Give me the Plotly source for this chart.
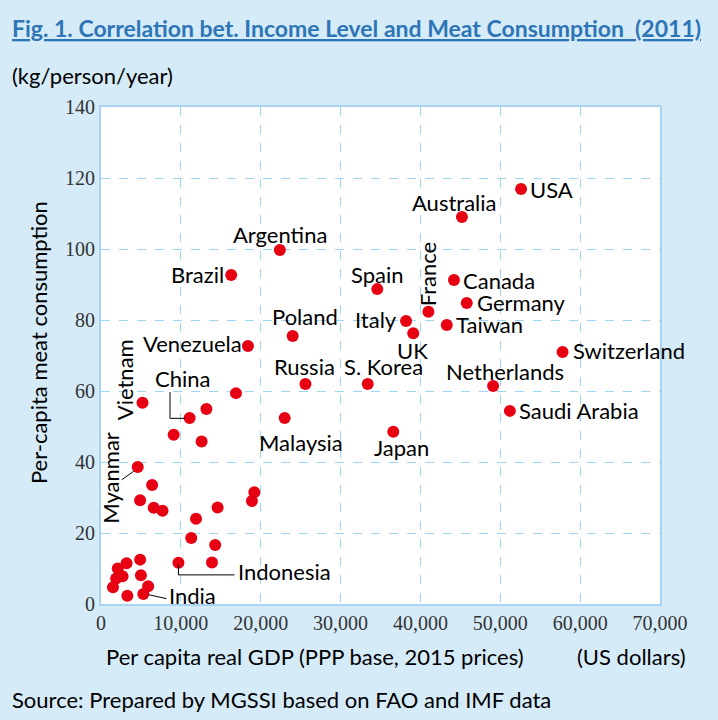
import plotly.graph_objects as go

# per capita real GDP (US$) and meat consumption (kg/person/year), 2011
countries = ["USA", "Australia", "Argentina", "Brazil", "Canada", "Spain", "Germany",
             "France", "Italy", "Taiwan", "UK", "Poland", "Venezuela", "Switzerland",
             "Russia", "S. Korea", "Netherlands", "Saudi Arabia", "Japan", "Malaysia",
             "China", "Vietnam", "Myanmar", "Indonesia", "India",
             "", "", "", "", "", "", "", "", "", "", "", "", "", "", "", "", "",
             "", "", "", "", "", "", ""]
gdp = [52600, 45200, 22400, 16300, 44200, 34600, 45800,
       41000, 38200, 43300, 39100, 24000, 18400, 57800,
       25600, 33400, 49100, 51200, 36600, 23000,
       11100, 5200, 4600, 9700, 5300,
       16900, 13200, 9100, 12600, 6400, 19200, 4900, 18900, 6600, 7700,
       14600, 11900, 11300, 14300, 4900, 3200, 2100, 13900, 5000, 1900,
       2700, 1500, 5900, 3300]
meat = [116.9, 109.0, 99.7, 92.7, 91.3, 88.7, 84.8,
        82.3, 79.7, 78.6, 76.3, 75.5, 72.7, 71.0,
        62.0, 62.0, 61.4, 54.4, 48.5, 52.4,
        52.4, 56.7, 38.6, 11.6, 2.8,
        59.4, 54.9, 47.7, 45.8, 33.5, 31.5, 29.2, 29.0, 27.1, 26.3,
        27.2, 24.0, 18.6, 16.6, 12.5, 11.5, 10.0, 11.7, 8.1, 7.2,
        7.8, 4.7, 5.0, 2.3]

# label placement: (xshift, yshift, xanchor, textangle) in pixels
label_pos = {
    "USA": (7, 0, "left", 0), "Australia": (-8, 15, "center", 0),
    "Argentina": (0, 16, "center", 0), "Brazil": (-5, 0, "right", 0),
    "Canada": (7, -1, "left", 0), "Spain": (0, 15, "center", 0),
    "Germany": (8, 0, "left", 0), "France": (-1, 38, "center", -90),
    "Italy": (-7, 2, "right", 0), "Taiwan": (7, 0, "left", 0),
    "UK": (-1, -17, "center", 0), "Poland": (12, 19, "center", 0),
    "Venezuela": (-4, 2, "right", 0), "Switzerland": (8, 1, "left", 0),
    "Russia": (-1, 17, "center", 0), "S. Korea": (16, 17, "center", 0),
    "Netherlands": (12, 15, "center", 0), "Saudi Arabia": (7, 0, "left", 0),
    "Japan": (8, -16, "center", 0), "Malaysia": (16, -25, "center", 0),
    "China": (-7, 39, "center", 0), "Vietnam": (-18, 23, "center", -90),
    "Myanmar": (-27, -11, "center", -90), "Indonesia": (58, -9, "left", 0),
    "India": (24, -1, "left", 0),
}

# leader lines (data coordinates)
leaders = [
    [(8640, 59.7), (8640, 52.3), (10500, 52.3)],   # China
    [(9700, 11.0), (9700, 8.2), (16700, 8.2)],     # Indonesia
    [(6000, 2.6), (8200, 1.5)],                    # India
    [(2600, 35.0), (4100, 37.4)],                  # Myanmar
]

fig = go.Figure()
fig.add_trace(go.Scatter(
    x=gdp, y=meat, mode="markers",
    marker=dict(size=12, color="#E60012"),
    hoverinfo="x+y",
))

label_font = dict(family="Lato, Carlito, sans-serif", size=22, color="black")
for name, x, y in zip(countries, gdp, meat):
    if not name:
        continue
    dx, dy, anchor, angle = label_pos[name]
    fig.add_annotation(x=x, y=y, text=name, showarrow=False, xanchor=anchor,
                       yanchor="middle", xshift=dx, yshift=dy, textangle=angle,
                       font=label_font)

for pts in leaders:
    path = "M " + " L ".join(f"{px},{py}" for px, py in pts)
    fig.add_shape(type="path", path=path, xref="x", yref="y",
                  line=dict(color="black", width=1))

text_font = dict(family="Lato, Carlito, sans-serif", size=22, color="black")


def note(text, x, y, xanchor="left", angle=0, font=text_font):
    fig.add_annotation(xref="paper", yref="paper", x=x, y=y, text=text,
                       xanchor=xanchor, yanchor="middle", textangle=angle,
                       showarrow=False, font=font)


note("<b><u>Fig. 1. Correlation bet. Income Level and Meat Consumption  (2011)</u></b>",
     -0.1628, 1.159, font=dict(family="Lato, Carlito, sans-serif", size=23, color="#2E75B6"))
note("(kg/person/year)", -0.1628, 1.0624)
note("Per-capita meat consumption", -0.1127, 0.525, xanchor="center", angle=-90)
note("Per capita real GDP (PPP base, 2015 prices)", 0.005, -0.1066)
note("(US dollars)", 1.05, -0.1066, xanchor="right")
note("Source: Prepared by MGSSI based on FAO and IMF data", -0.1628, -0.193)

grid = dict(showgrid=True, gridcolor="#9DD5F2", griddash="dash", gridwidth=1,
            showline=True, linecolor="#A9D3F0", linewidth=2, mirror=True,
            zeroline=False, ticks="",
            tickfont=dict(family="Liberation Serif, serif", size=20, color="#333333"))
fig.update_xaxes(range=[0, 70000], dtick=10000, tickformat=",d", **grid)
fig.update_yaxes(range=[0, 140], dtick=20, **grid)

fig.update_layout(
    width=718, height=720,
    margin=dict(l=101, r=58, t=107, b=116),
    paper_bgcolor="#D5EBF8", plot_bgcolor="white",
    showlegend=False,
)

fig.write_html("out.html", config={"displayModeBar": False},
               post_script="document.body.style.margin='0px';")
